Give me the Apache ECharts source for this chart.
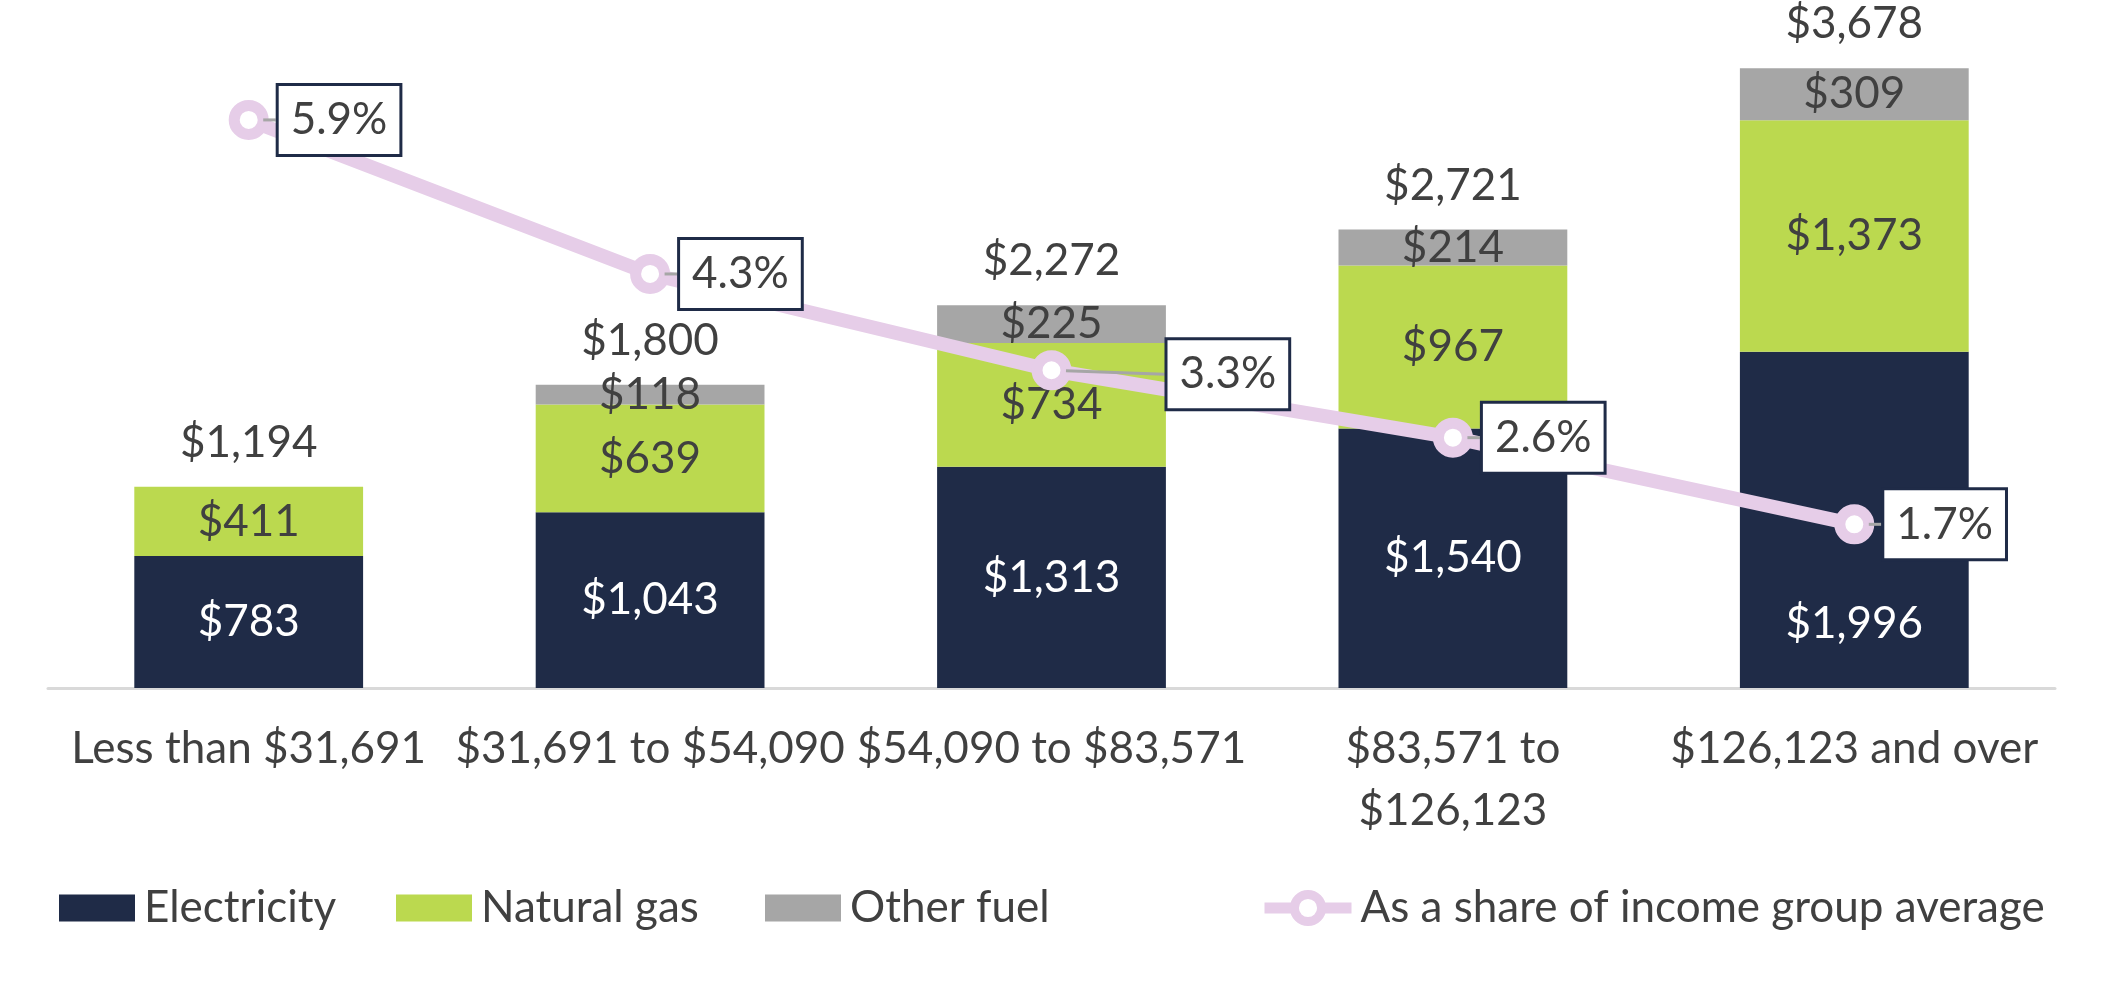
<!DOCTYPE html>
<html lang="en">
<head>
  <meta charset="utf-8">
  <title>Energy spending by income group</title>
  <script src="https://cdn.jsdelivr.net/npm/echarts@6/dist/echarts.min.js"></script>
  <style>
    html, body { margin: 0; padding: 0; background: #fff; }
    #main { width: 2118px; height: 986px; }
  </style>
</head>
<body>
  <div id="main"></div>
  <script>
    // data
    var categories = ['Less than $31,691', '$31,691 to $54,090', '$54,090 to $83,571', '$83,571 to\n$126,123', '$126,123 and over'];
    var electricity = [783, 1043, 1313, 1540, 1996];
    var naturalGas = [411, 639, 734, 967, 1373];
    var otherFuel = [0, 118, 225, 214, 309];
    var shareOfIncome = [5.9, 4.3, 3.3, 2.6, 1.7];

    // total printed above each bar
    var totals = electricity.map(function (v, i) {
      return v + naturalGas[i] + otherFuel[i];
    });

    var font = 'Lato, "Noto Sans", sans-serif';
    var dark = '#404040';
    var lilac = '#e6cde8';

    function money(v) {
      return '$' + v.toLocaleString('en-US');
    }

    // one legend per entry so each sits where it does in the original
    function legendAt(name, left, width) {
      return {
        data: [{ name: name, icon: 'rect' }],
        left: left,
        top: 886,
        padding: 0,
        itemWidth: width,
        itemHeight: 27,
        textStyle: { fontSize: 44, color: dark, fontFamily: font, padding: [0, 0, 0, 4] }
      };
    }

    var myChart = echarts.init(document.getElementById('main'));

    var lineLegend = legendAt('As a share of income group average', 1259, 87);
    lineLegend.data = ['As a share of income group average'];
    lineLegend.itemHeight = 34;
    lineLegend.lineStyle = { width: 11, color: lilac };
    lineLegend.itemStyle = { color: '#ffffff', borderColor: lilac, borderWidth: 9 };

    var option = {
      animation: false,
      textStyle: { fontFamily: font },
      grid: { left: 48, right: 63, top: 14, bottom: 298, containLabel: false },
      legend: [
        legendAt('Electricity', 59, 76),
        legendAt('Natural gas', 396, 76),
        legendAt('Other fuel', 765, 76),
        lineLegend
      ],
      xAxis: {
        type: 'category',
        data: categories,
        axisTick: { show: false },
        axisLine: { lineStyle: { color: '#d9d9d9', width: 3 } },
        axisLabel: {
          interval: 0,
          fontSize: 44,
          color: dark,
          fontFamily: font,
          margin: 30,
          lineHeight: 62
        }
      },
      yAxis: [{
        type: 'value',
        min: 0,
        max: 4000,
        show: false,
        splitLine: { show: false }
      }, {
        type: 'value',
        min: 0,
        max: 7,
        show: false,
        splitLine: { show: false }
      }],
      series: [{
        name: 'Electricity',
        type: 'bar',
        stack: 'spend',
        barCategoryGap: '43%',
        data: electricity,
        itemStyle: { color: '#1f2b47' },
        label: {
          show: true,
          position: 'inside',
          fontSize: 44,
          color: '#ffffff',
          fontFamily: font,
          formatter: function (p) { return money(p.value); }
        },
        // last label is pushed down below the line marker
        labelLayout: function (params) {
          if (params.dataIndex === 4) {
            return { dy: 104 };
          }
          return {};
        }
      }, {
        name: 'Natural gas',
        type: 'bar',
        stack: 'spend',
        data: naturalGas,
        itemStyle: { color: '#bbd94f' },
        label: {
          show: true,
          position: 'inside',
          fontSize: 44,
          color: dark,
          fontFamily: font,
          formatter: function (p) { return money(p.value); }
        }
      }, {
        name: 'Other fuel',
        type: 'bar',
        stack: 'spend',
        data: otherFuel,
        itemStyle: { color: '#a6a6a6' },
        label: {
          show: true,
          position: 'inside',
          fontSize: 44,
          color: dark,
          fontFamily: font,
          formatter: function (p) { return p.value ? money(p.value) : ''; }
        }
      }, {
        // empty segment on top of each stack, only carries the total label
        name: 'Total',
        type: 'bar',
        stack: 'spend',
        data: totals.map(function () { return 0; }),
        itemStyle: { color: 'transparent' },
        label: {
          show: true,
          position: 'top',
          distance: 22,
          fontSize: 44,
          color: dark,
          fontFamily: font,
          formatter: function (p) { return money(totals[p.dataIndex]); }
        }
      }, {
        name: 'As a share of income group average',
        type: 'line',
        yAxisIndex: 1,
        z: 5,
        data: shareOfIncome,
        symbol: 'circle',
        symbolSize: 29,
        lineStyle: { color: lilac, width: 14 },
        itemStyle: { color: '#ffffff', borderColor: lilac, borderWidth: 11 },
        label: {
          show: true,
          position: 'right',
          distance: 10,
          fontSize: 44,
          lineHeight: 50,
          color: dark,
          fontFamily: font,
          backgroundColor: '#ffffff',
          borderColor: '#1f2b47',
          borderWidth: 3,
          padding: [9, 12, 9, 12],
          formatter: function (p) { return p.value.toFixed(1) + '%'; }
        },
        labelLine: {
          show: true,
          showAbove: true,
          lineStyle: { color: '#a6a6a6', width: 3 }
        },
        // the 3.3% box sits further right, joined by a leader line
        labelLayout: function (params) {
          if (params.dataIndex === 2) {
            return { dx: 86, dy: 4 };
          }
          return {};
        }
      }]
    };

    myChart.setOption(option);
  </script>
</body>
</html>
